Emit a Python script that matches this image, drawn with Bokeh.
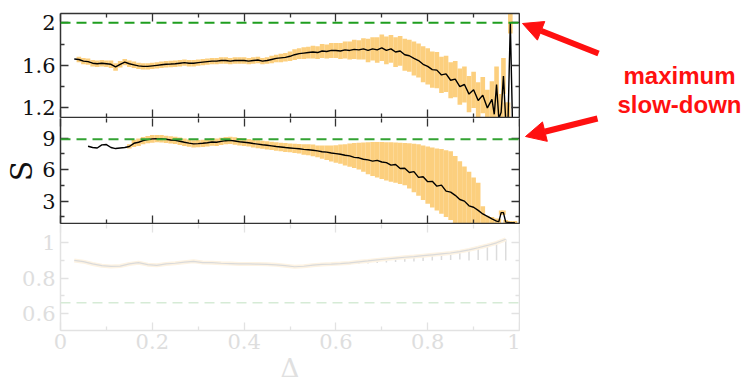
import numpy as np
from bokeh.plotting import figure
from bokeh.layouts import column, row
from bokeh.models import (Range1d, FixedTicker, LinearAxis, Span, Label, Arrow,
                          NormalHead, CustomJSTickFormatter, ColumnDataSource)
from bokeh.embed import file_html
from bokeh.resources import INLINE

nan = float("nan")

# ---------------- data ----------------
X_MAJOR = [0, 0.2, 0.4, 0.6, 0.8, 1]
X_MINOR = [0.1, 0.3, 0.5, 0.7, 0.9]

# top panel (ratio)
delta_R = [0.03, 0.04, 0.05, 0.06, 0.07, 0.08, 0.09, 0.10, 0.11, 0.12,
           0.13, 0.14, 0.15, 0.16, 0.17, 0.18, 0.19, 0.20, 0.21, 0.22,
           0.23, 0.24, 0.25, 0.26, 0.27, 0.28, 0.29, 0.30, 0.31, 0.32,
           0.33, 0.34, 0.35, 0.36, 0.37, 0.38, 0.39, 0.40, 0.41, 0.42,
           0.43, 0.44, 0.45, 0.46, 0.47, 0.48, 0.49, 0.50, 0.51, 0.52,
           0.53, 0.54, 0.55, 0.56, 0.57, 0.58, 0.59, 0.60, 0.61, 0.62,
           0.63, 0.64, 0.65, 0.66, 0.67, 0.68, 0.69, 0.70, 0.71, 0.72,
           0.73, 0.74, 0.75, 0.76, 0.77, 0.78, 0.79, 0.80, 0.81, 0.82,
           0.83, 0.84, 0.85, 0.86, 0.87, 0.88, 0.89, 0.90, 0.91, 0.92,
           0.93, 0.94,
           0.945, 0.95, 0.955, 0.96, 0.965, 0.97, 0.975, 0.98, 0.985]
R = [1.66, 1.655, 1.64, 1.635, 1.62, 1.615, 1.62, 1.615, 1.61, 1.585,
     1.61, 1.63, 1.615, 1.605, 1.595, 1.59, 1.59, 1.595, 1.60, 1.605,
     1.61, 1.612, 1.615, 1.62, 1.625, 1.62, 1.62, 1.625, 1.63, 1.635,
     1.64, 1.64, 1.645, 1.645, 1.64, 1.645, 1.645, 1.645, 1.64, 1.645,
     1.65, 1.64, 1.645, 1.655, 1.665, 1.67, 1.675, 1.685, 1.70, 1.71,
     1.715, 1.72, 1.725, 1.72, 1.735, 1.73, 1.74, 1.74, 1.735, 1.745,
     1.74, 1.75, 1.745, 1.755, 1.74, 1.755, 1.745, 1.765, 1.74, 1.755,
     1.725, 1.735, 1.70, 1.69, 1.665, 1.645, 1.61, 1.59, 1.56, 1.555,
     1.51, 1.52, 1.46, 1.47, 1.40, 1.42, 1.33, 1.37, 1.27, 1.32,
     1.20, 1.28,
     1.14, 1.42, 1.10, 1.16, 1.50, 1.08, 1.08, 2.00, 1.00]
R_err = [0, 0.025, 0.03, 0.03, 0.03, 0.03, 0.03, 0.03, 0.035, 0.035,
         0.03, 0.03, 0.03, 0.03, 0.03, 0.03, 0.03, 0.03, 0.03, 0.03,
         0.03, 0.03, 0.03, 0.03, 0.03, 0.03, 0.03, 0.03, 0.03, 0.03,
         0.03, 0.03, 0.03, 0.03, 0.03, 0.03, 0.03, 0.03, 0.03, 0.03,
         0.03, 0.03, 0.03, 0.035, 0.035, 0.04, 0.04, 0.045, 0.05, 0.05,
         0.055, 0.055, 0.06, 0.06, 0.065, 0.065, 0.07, 0.07, 0.075, 0.08,
         0.085, 0.09, 0.09, 0.10, 0.11, 0.11, 0.12, 0.125, 0.13, 0.13,
         0.14, 0.14, 0.15, 0.15, 0.16, 0.16, 0.17, 0.17, 0.17, 0.17,
         0.17, 0.17, 0.17, 0.17, 0.17, 0.17, 0.17, 0.17, 0.17, 0.17,
         0.17, 0.17,
         0.17, 0.17, 0.17, 0.17, 0.17, 0.17, 0.17, 0.10, 0.10]
R_MAX = 2.0

# middle panel (S)
delta_S = [0.06, 0.07, 0.08, 0.09, 0.10, 0.11, 0.12, 0.13, 0.14, 0.15,
           0.16, 0.17, 0.18, 0.19, 0.20, 0.21, 0.22, 0.23, 0.24, 0.25,
           0.26, 0.27, 0.28, 0.29, 0.30, 0.31, 0.32, 0.33, 0.34, 0.35,
           0.36, 0.37, 0.38, 0.39, 0.40, 0.41, 0.42, 0.43, 0.44, 0.45,
           0.46, 0.47, 0.48, 0.49, 0.50, 0.51, 0.52, 0.53, 0.54, 0.55,
           0.56, 0.57, 0.58, 0.59, 0.60, 0.61, 0.62, 0.63, 0.64, 0.65,
           0.66, 0.67, 0.68, 0.69, 0.70, 0.71, 0.72, 0.73, 0.74, 0.75,
           0.76, 0.77, 0.78, 0.79, 0.80, 0.81, 0.82, 0.83, 0.84, 0.85,
           0.86, 0.87, 0.88, 0.89, 0.90, 0.91, 0.92, 0.93, 0.94, 0.95,
           0.955, 0.96, 0.965, 0.97, 0.98, 0.99]
S = [8.22, 8.10, 8.05, 8.35, 8.38, 8.10, 8.00, 8.05, 8.10, 8.20,
     8.50, 8.60, 8.75, 8.85, 8.92, 8.95, 8.93, 8.88, 8.82, 8.78,
     8.70, 8.60, 8.52, 8.45, 8.47, 8.50, 8.55, 8.62, 8.60, 8.68,
     8.75, 8.78, 8.72, 8.65, 8.60, 8.55, 8.48, 8.42, 8.36, 8.31,
     8.26, 8.20, 8.15, 8.10, 8.06, 8.02, 7.98, 7.92, 7.88, 7.84,
     7.78, 7.70, 7.66, 7.58, 7.52, 7.46, 7.36, 7.30, 7.16, 7.12,
     6.98, 6.92, 6.80, 6.88, 6.72, 6.66, 6.42, 6.48, 6.10, 6.12,
     5.72, 5.80, 5.26, 5.32, 4.85, 4.88, 4.42, 4.52, 3.95, 3.85,
     3.55, 3.15, 3.00, 2.55, 2.42, 2.12, 1.78, 1.55, 1.30, 1.10,
     1.05, 1.90, 1.90, 1.00, 0.95, 0.95]
S_hi = [nan, nan, nan, nan, nan, nan, nan, nan, nan, 8.40,
        8.85, 8.95, 9.10, 9.20, 9.28, 9.30, 9.28, 9.23, 9.17, 9.13,
        9.05, 8.95, 8.87, 8.80, 8.82, 8.85, 8.90, 8.97, 8.95, 9.03,
        9.10, 9.13, 9.07, 9.00, 8.95, 8.90, 8.85, 8.80, 8.74, 8.70,
        8.65, 8.60, 8.56, 8.52, 8.48, 8.46, 8.44, 8.42, 8.40, 8.38,
        8.30, 8.28, 8.28, 8.30, 8.32, 8.38, 8.42, 8.48, 8.52, 8.55,
        8.58, 8.60, 8.62, 8.62, 8.62, 8.60, 8.60, 8.58, 8.56, 8.53,
        8.50, 8.45, 8.40, 8.30, 8.20, 8.10, 8.00, 7.95, 7.85, 7.75,
        7.30, 6.80, 6.30, 5.80, 5.25, 4.75, 2.50, 1.60, 1.50, 1.35,
        1.30, 2.10, 2.10, 1.20, 1.10, 1.10]
S_lo = [nan, nan, nan, nan, nan, nan, nan, nan, nan, 8.00,
        8.15, 8.25, 8.40, 8.50, 8.56, 8.60, 8.58, 8.53, 8.47, 8.43,
        8.35, 8.25, 8.17, 8.10, 8.12, 8.15, 8.20, 8.27, 8.25, 8.33,
        8.40, 8.43, 8.37, 8.30, 8.25, 8.20, 8.11, 8.04, 7.98, 7.92,
        7.87, 7.80, 7.74, 7.68, 7.64, 7.58, 7.52, 7.42, 7.36, 7.28,
        7.18, 7.04, 6.92, 6.76, 6.65, 6.55, 6.40, 6.28, 6.15, 6.00,
        5.80, 5.55, 5.40, 5.25, 5.10, 4.95, 4.85, 4.75, 4.62, 4.50,
        4.20, 3.85, 3.50, 3.10, 2.75, 2.40, 2.10, 1.80, 1.50, 1.20,
        0.90, 0.90, 0.90, 0.90, 0.90, 0.90, 0.90, 0.90, 0.90, 0.90,
        0.90, 1.70, 1.70, 0.90, 0.90, 0.90]
S_MAX = 8.88

# bottom (faded) panel
delta_B = [0.03, 0.05, 0.07, 0.09, 0.11, 0.13, 0.15, 0.17, 0.19, 0.21,
           0.23, 0.25, 0.27, 0.29, 0.31, 0.33, 0.35, 0.37, 0.39, 0.41,
           0.43, 0.45, 0.47, 0.49, 0.51, 0.53, 0.55, 0.57, 0.59, 0.61,
           0.63, 0.65, 0.67, 0.69, 0.71, 0.73, 0.75, 0.77, 0.79, 0.81,
           0.83, 0.85, 0.87, 0.89, 0.91, 0.93, 0.95, 0.97]
B = [0.900, 0.893, 0.880, 0.870, 0.866, 0.868, 0.880, 0.887, 0.876, 0.872,
     0.880, 0.884, 0.890, 0.895, 0.888, 0.887, 0.884, 0.882, 0.880, 0.880,
     0.879, 0.878, 0.875, 0.870, 0.864, 0.867, 0.873, 0.877, 0.879, 0.882,
     0.886, 0.892, 0.897, 0.903, 0.908, 0.913, 0.918, 0.922, 0.927, 0.932,
     0.937, 0.942, 0.950, 0.960, 0.972, 0.985, 1.000, 1.020]
B_err = [0, 0, 0, 0, 0, 0, 0, 0, 0, 0,
         0, 0, 0, 0, 0, 0, 0, 0, 0, 0,
         0, 0, 0, 0, 0, 0, 0, 0, 0.005, 0.008,
         0.010, 0.012, 0.015, 0.018, 0.020, 0.022, 0.025, 0.028, 0.030, 0.032,
         0.035, 0.040, 0.045, 0.060, 0.070, 0.085, 0.100, 0.120]
B_REF = 0.66

# ---------------- styling ----------------
SERIF = "DejaVu Serif"
SANS = "Liberation Sans"
ORANGE = "#fccf7e"
GREEN = "#1f9e1f"
DARK = "#333333"
FAINT = "#e2e2e2"
RED = "#ff1010"
FRAME_W = 459
LEFT = 60
RIGHT = 1
TICK_FONT_SIZE = "21px"

fmt = CustomJSTickFormatter(code="return String(tick);")
blank = CustomJSTickFormatter(code="return '';")


def make_fig(y0, y1, frame_h, bt, bb):
    p = figure(frame_width=FRAME_W, frame_height=frame_h,
               x_range=Range1d(0, 1), y_range=Range1d(y0, y1),
               output_backend="svg", toolbar_location=None,
               x_axis_location=None, y_axis_location=None,
               min_border_left=LEFT, min_border_right=RIGHT,
               min_border_top=bt, min_border_bottom=bb)
    p.outline_line_color = None
    p.xgrid.visible = False
    p.ygrid.visible = False
    p.background_fill_color = "white"
    p.border_fill_color = "white"
    return p


def add_axes(p, ymaj, ymin, label_left, label_bottom, tick_color, line_colors, label_color):
    axes = {}
    specs = [("below", X_MAJOR, X_MINOR, label_bottom, line_colors[0]),
             ("above", X_MAJOR, X_MINOR, False, line_colors[1]),
             ("left", ymaj, ymin, label_left, line_colors[2]),
             ("right", ymaj, ymin, False, line_colors[3])]
    for loc, maj, mnr, lab, lc in specs:
        ax = LinearAxis(ticker=FixedTicker(ticks=maj, minor_ticks=mnr),
                        formatter=fmt if lab else blank)
        ax.axis_line_color = lc
        ax.axis_line_width = 1.5
        ax.major_tick_in = 8
        ax.major_tick_out = 0
        ax.minor_tick_in = 4
        ax.minor_tick_out = 0
        ax.major_tick_line_color = tick_color
        ax.minor_tick_line_color = tick_color
        ax.major_tick_line_width = 1.3
        ax.minor_tick_line_width = 1.3
        if lab:
            ax.major_label_text_font = SERIF
            ax.major_label_text_font_size = TICK_FONT_SIZE
            ax.major_label_text_color = label_color
            ax.major_label_standoff = 5
        else:
            ax.major_label_text_font_size = "1px"
            ax.major_label_standoff = 0
        p.add_layout(ax, loc)
        axes[loc] = ax
    return axes


# ---------------- top panel ----------------
p1 = make_fig(1.11, 2.087, 104, 13, 1)
add_axes(p1, [1.2, 1.6, 2.0], [1.4, 1.8], True, False, DARK, [DARK, DARK, DARK, DARK], "#111111")
R_arr = np.array(R)
Re_arr = np.array(R_err)
src1 = ColumnDataSource(dict(x=delta_R, y=R, lo=R_arr - Re_arr, hi=R_arr + Re_arr))
p1.segment(x0="x", y0="lo", x1="x", y1="hi", source=src1, line_color=ORANGE, line_width=4.6)
p1.line("x", "y", source=src1, line_color="black", line_width=1.4)
p1.add_layout(Span(location=R_MAX, dimension="width", line_color=GREEN,
                   line_dash="10 6", line_width=2))

# ---------------- middle panel ----------------
p2 = make_fig(0.87, 10.86, 105, 0, 1)
ax2 = add_axes(p2, [3, 6, 9], [1.5, 4.5, 7.5], True, False, DARK, [DARK, None, DARK, DARK], "#111111")
ax2["left"].axis_label = "S"
ax2["left"].axis_label_text_font = SERIF
ax2["left"].axis_label_text_font_style = "normal"
ax2["left"].axis_label_text_font_size = "30px"
ax2["left"].axis_label_text_line_height = 1.0
ax2["left"].axis_label_text_color = "#111111"
ax2["left"].axis_label_standoff = 0
src2 = ColumnDataSource(dict(x=delta_S, y=S, lo=S_lo, hi=S_hi))
p2.segment(x0="x", y0="lo", x1="x", y1="hi", source=src2, line_color=ORANGE, line_width=4.6)
p2.line("x", "y", source=src2, line_color="black", line_width=1.4)
p2.add_layout(Span(location=S_MAX, dimension="width", line_color="#33a333",
                   line_dash="10 6", line_width=2))

# ---------------- bottom (faded) panel ----------------
p3 = make_fig(0.502, 1.104, 106, 0, 56)
ax3 = add_axes(p3, [0.6, 0.8, 1.0], [0.7, 0.9], True, True, FAINT, [FAINT, None, FAINT, FAINT], "#dedede")
ax3["below"].major_label_standoff = 3
ax3["below"].major_label_text_line_height = 1.0
ax3["below"].axis_label = "Δ"
ax3["below"].axis_label_text_font = SERIF
ax3["below"].axis_label_text_font_style = "normal"
ax3["below"].axis_label_text_font_size = "26px"
ax3["below"].axis_label_text_line_height = 1.0
ax3["below"].axis_label_text_color = "#e0e0e0"
ax3["below"].axis_label_standoff = 1
B_arr = np.array(B)
Be_arr = np.array(B_err)
src3 = ColumnDataSource(dict(x=delta_B, y=B, lo=B_arr - Be_arr))
p3.segment(x0="x", y0="lo", x1="x", y1="y", source=src3, line_color="#dcdcdc", line_width=1.5)
p3.line("x", "y", source=src3, line_color="#fdf3e3", line_width=4)
p3.line("x", "y", source=src3, line_color="#dadada", line_width=1.2)
p3.add_layout(Span(location=B_REF, dimension="width", line_color="#d6ebd6",
                   line_dash="10 6", line_width=1.5))

# ---------------- annotation strip (right side, pixel coordinates) ----------------
pa = figure(width=225, height=224, x_range=Range1d(520, 745), y_range=Range1d(224, 0),
            output_backend="svg", toolbar_location=None,
            x_axis_location=None, y_axis_location=None,
            min_border=0, min_border_left=0, min_border_right=0,
            min_border_top=0, min_border_bottom=0)
pa.outline_line_color = None
pa.xgrid.visible = False
pa.ygrid.visible = False
pa.add_layout(Label(x=679, y=75, text="maximum", text_align="center",
                    text_baseline="alphabetic", text_color=RED,
                    text_font=SANS, text_font_style="bold",
                    text_font_size="24px"))
pa.add_layout(Label(x=679, y=104, text="slow-down", text_align="center",
                    text_baseline="alphabetic", text_color=RED,
                    text_font=SANS, text_font_style="bold",
                    text_font_size="24px"))
pa.add_layout(Arrow(end=NormalHead(size=20, fill_color=RED, line_color=RED),
                    x_start=598, y_start=53, x_end=522, y_end=23,
                    line_color=RED, line_width=6))
pa.add_layout(Arrow(end=NormalHead(size=20, fill_color=RED, line_color=RED),
                    x_start=597, y_start=118, x_end=525, y_end=136,
                    line_color=RED, line_width=6))

layout = row(column(p1, p2, p3, spacing=0), pa, spacing=0)
open("out.html", "w").write(file_html(layout, INLINE))
